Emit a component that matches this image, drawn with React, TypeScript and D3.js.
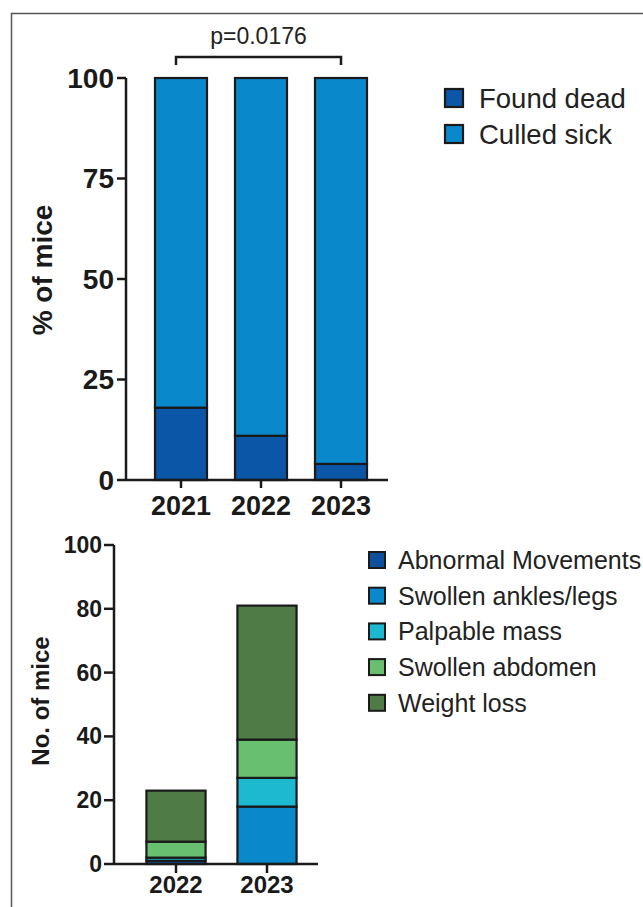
import React from "react";
import * as d3 from "d3";

const topYears = ["2021", "2022", "2023"];
const foundDead = [18, 11, 4];
const culledSick = [82, 89, 96];
const topSeries = ["Found dead", "Culled sick"];
const topColors = ["#0b56a6", "#0a88cc"];
const topTicks = [0, 25, 50, 75, 100];

const botYears = ["2022", "2023"];
const botSeries = ["Abnormal Movements", "Swollen ankles/legs", "Palpable mass", "Swollen abdomen", "Weight loss"];
const abnormal = [1, 0];
const swollenAnkles = [0, 18];
const palpable = [1, 9];
const swollenAbdomen = [5, 12];
const weightLoss = [16, 42];
const botColors = ["#0e4f9e", "#0a88cc", "#1cb9d0", "#68bf6f", "#4f7b46"];
const botTicks = [0, 20, 40, 60, 80, 100];

const pLabel = "p=0.0176";

const FONT = "'Liberation Sans', Arial, Helvetica, sans-serif";
const INK = "#1a1a1a";

export default function App() {
  // top chart
  const xT = d3.scaleBand().domain(topYears).range([141, 381]).paddingInner(0.35).paddingOuter(0.175);
  const yT = d3.scaleLinear().domain([0, 100]).range([480, 78]);
  const topVals = [foundDead, culledSick];
  const topStack = topYears.map((yr, i) => {
    let acc = 0;
    return topVals.map((s, k) => {
      const y0 = acc;
      acc += s[i];
      return { yr, k, y0, y1: acc };
    });
  });

  // bottom chart
  const xB = d3.scaleBand().domain(botYears).range([130.5, 312.5]).paddingInner(0.35).paddingOuter(0.175);
  const yB = d3.scaleLinear().domain([0, 100]).range([864, 545]);
  const botVals = [abnormal, swollenAnkles, palpable, swollenAbdomen, weightLoss];
  const botStack = botYears.map((yr, i) => {
    let acc = 0;
    return botVals.map((s, k) => {
      const y0 = acc;
      acc += s[i];
      return { yr, k, y0, y1: acc };
    });
  });

  const axT = 126;
  const axB = 114;

  return (
    <svg width={643} height={907} style={{ position: "absolute", left: 0, top: 0, background: "#fff" }} fontFamily={FONT}>
      <rect x={0} y={0} width={643} height={907} fill="#fff" />
      <rect x={11.5} y={13.5} width={700} height={950} fill="none" stroke="#555" strokeWidth={1.5} />

      {/* ---------- top chart ---------- */}
      {topStack.map((bars) =>
        bars.map((b) =>
          b.y1 > b.y0 ? (
            <rect
              key={b.yr + b.k}
              x={xT(b.yr)!}
              width={xT.bandwidth()}
              y={yT(b.y1)}
              height={yT(b.y0) - yT(b.y1)}
              fill={topColors[b.k]}
              stroke={INK}
              strokeWidth={2.2}
            />
          ) : null
        )
      )}
      <line x1={axT} x2={axT} y1={yT(100)} y2={yT(0) + 1} stroke={INK} strokeWidth={2.5} />
      <line x1={axT} x2={388} y1={yT(0)} y2={yT(0)} stroke={INK} strokeWidth={2.5} />
      {topTicks.map((t) => (
        <g key={t}>
          <line x1={axT - 9} x2={axT} y1={yT(t)} y2={yT(t)} stroke={INK} strokeWidth={2.5} />
          <text x={axT - 12} y={yT(t)} textAnchor="end" dominantBaseline="central" fontSize={28} fontWeight="bold" fill={INK}>
            {t}
          </text>
        </g>
      ))}
      {topYears.map((yr) => {
        const cx = xT(yr)! + xT.bandwidth() / 2;
        return (
          <g key={yr}>
            <line x1={cx} x2={cx} y1={yT(0)} y2={yT(0) + 8} stroke={INK} strokeWidth={2.5} />
            <text x={cx} y={515} textAnchor="middle" fontSize={27} fontWeight="bold" fill={INK}>
              {yr}
            </text>
          </g>
        );
      })}
      <text transform={`translate(52,270) rotate(-90)`} textAnchor="middle" fontSize={28} fontWeight="bold" fill={INK}>
        % of mice
      </text>
      {/* bracket */}
      {(() => {
        const a = xT("2021")! + xT.bandwidth() / 2 - 5;
        const b = xT("2023")! + xT.bandwidth() / 2;
        return (
          <g>
            <path d={`M${a},65V57H${b}V65`} fill="none" stroke={INK} strokeWidth={2.5} />
            <text x={(a + b) / 2} y={44} textAnchor="middle" fontSize={23} fill="#222">
              {pLabel}
            </text>
          </g>
        );
      })()}
      {/* top legend */}
      {topSeries.map((s, k) => (
        <g key={s}>
          <rect x={445} y={89 + k * 36} width={18} height={18} fill={topColors[k]} stroke={INK} strokeWidth={2.2} />
          <text x={479} y={98 + k * 36} dominantBaseline="central" fontSize={27.5} fill="#222">
            {s}
          </text>
        </g>
      ))}

      {/* ---------- bottom chart ---------- */}
      {botStack.map((bars) =>
        bars.map((b) =>
          b.y1 > b.y0 ? (
            <rect
              key={b.yr + b.k}
              x={xB(b.yr)!}
              width={xB.bandwidth()}
              y={yB(b.y1)}
              height={yB(b.y0) - yB(b.y1)}
              fill={botColors[b.k]}
              stroke={INK}
              strokeWidth={2.2}
            />
          ) : null
        )
      )}
      <line x1={axB} x2={axB} y1={yB(100)} y2={yB(0) + 1} stroke={INK} strokeWidth={2.5} />
      <line x1={axB} x2={318} y1={yB(0)} y2={yB(0)} stroke={INK} strokeWidth={2.5} />
      {botTicks.map((t) => (
        <g key={t}>
          <line x1={axB - 10} x2={axB} y1={yB(t)} y2={yB(t)} stroke={INK} strokeWidth={2.5} />
          <text x={axB - 12} y={yB(t)} textAnchor="end" dominantBaseline="central" fontSize={23} fontWeight="bold" fill={INK}>
            {t}
          </text>
        </g>
      ))}
      {botYears.map((yr) => {
        const cx = xB(yr)! + xB.bandwidth() / 2;
        return (
          <g key={yr}>
            <line x1={cx} x2={cx} y1={yB(0)} y2={yB(0) + 9} stroke={INK} strokeWidth={2.5} />
            <text x={cx} y={893} textAnchor="middle" fontSize={24} fontWeight="bold" fill={INK}>
              {yr}
            </text>
          </g>
        );
      })}
      <text transform={`translate(49,701) rotate(-90)`} textAnchor="middle" fontSize={24} fontWeight="bold" fill={INK}>
        No. of mice
      </text>
      {/* bottom legend */}
      {botSeries.map((s, k) => (
        <g key={s}>
          <rect x={369} y={552 + k * 35.7} width={16} height={16} fill={botColors[k]} stroke={INK} strokeWidth={2} />
          <text x={398} y={560 + k * 35.7} dominantBaseline="central" fontSize={25} fill="#222">
            {s}
          </text>
        </g>
      ))}
    </svg>
  );
}
